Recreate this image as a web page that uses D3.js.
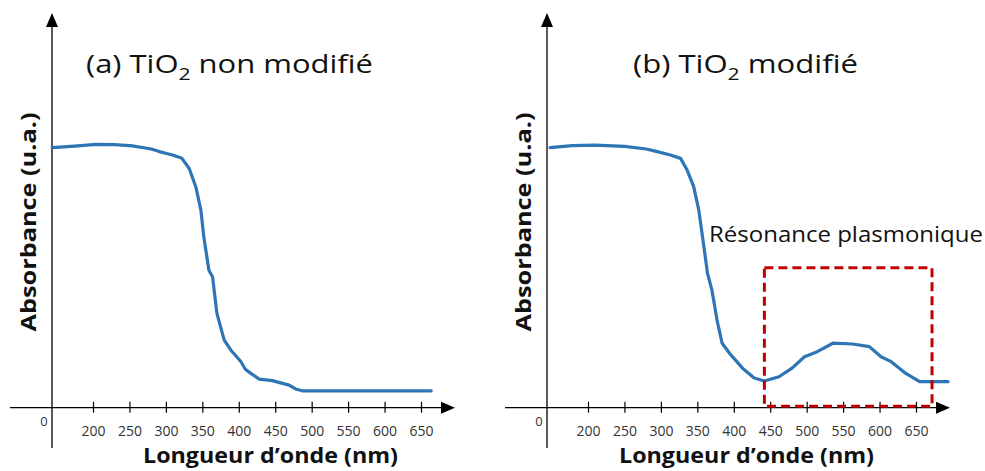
<!DOCTYPE html>
<html>
<head>
<meta charset="utf-8">
<script src="https://cdn.jsdelivr.net/npm/d3@7"></script>
<style>
	body { margin: 0; background: #fff; }
	svg { display: block; }
	text { font-family: "Open Sans", sans-serif; }
</style>
</head>
<body>
<div id="vis-proper"></div>
<script>
// wavelength ticks (nm)
const tickValues = [200, 250, 300, 350, 400, 450, 500, 550, 600, 650];

// (a) TiO2 non modifié : [wavelength nm, absorbance a.u.]
const specA = [
	[144, 1.0], [175, 1.006], [204, 1.013], [230, 1.012], [254, 1.007],
	[280, 0.995], [291, 0.985], [309, 0.972], [322, 0.959], [332, 0.92],
	[341, 0.85], [348, 0.76], [352, 0.658], [359, 0.529], [364, 0.504],
	[370, 0.363], [380, 0.26], [389, 0.222], [403, 0.177], [409, 0.148],
	[416, 0.133], [428, 0.11], [446, 0.104], [469, 0.087], [478, 0.072],
	[487, 0.065], [664, 0.065]
];

// (b) TiO2 modifié
const specB = [
	[148, 1.0], [178, 1.008], [210, 1.01], [250, 1.005], [280, 0.995],
	[295, 0.985], [313, 0.972], [327, 0.959], [336, 0.914], [345, 0.85],
	[352, 0.76], [359, 0.619], [364, 0.516], [370, 0.453], [377, 0.337],
	[384, 0.248], [396, 0.203], [412, 0.152], [428, 0.114], [442, 0.103],
	[462, 0.119], [480, 0.152], [497, 0.196], [512, 0.212], [536, 0.248],
	[563, 0.245], [586, 0.235], [602, 0.196], [616, 0.177], [636, 0.132],
	[655, 0.1], [694, 0.1]
];

// plasmon resonance window [nm from, nm to, absorbance top]
const plasmonBox = [442, 672, 0.538];

const main = () => {
	draw();
};

const draw = () => {
	const W = 985, H = 471;
	const svg = d3.select("#vis-proper").append("svg")
		.attr("width", W)
		.attr("height", H);

	const panels = [
		{ ox: 52, tag: "(a) TiO", rest: " non modifié", data: specA, tx: 86, tw: 287, lx: 270.5, box: false },
		{ ox: 547, tag: "(b) TiO", rest: " modifié", data: specB, tx: 633, tw: 225, lx: 746.5, box: true }
	];

	const axisY = 407.7;

	panels.forEach(p => {
		const g = svg.append("g");
		const x = d3.scaleLinear().domain([200, 650]).range([p.ox + 41, p.ox + 369]);
		const y = d3.scaleLinear().domain([0, 1]).range([axisY, 147.7]);

		// axis lines with arrows
		g.append("line")
			.attr("x1", p.ox).attr("x2", p.ox)
			.attr("y1", 448).attr("y2", 26)
			.attr("stroke", "#000").attr("stroke-width", 1.3);
		g.append("path")
			.attr("d", `M${p.ox},13 L${p.ox - 6},27 L${p.ox + 6},27 Z`)
			.attr("fill", "#000");
		g.append("line")
			.attr("x1", p.ox - 42).attr("x2", p.ox + 392)
			.attr("y1", axisY).attr("y2", axisY)
			.attr("stroke", "#000").attr("stroke-width", 1.3);
		g.append("path")
			.attr("d", `M${p.ox + 403},${axisY} L${p.ox + 389},${axisY - 6} L${p.ox + 389},${axisY + 6} Z`)
			.attr("fill", "#000");

		// ticks
		const ax = g.append("g")
			.attr("transform", `translate(0,${axisY})`)
			.call(d3.axisBottom(x).tickValues(tickValues).tickSize(0).tickPadding(18));
		ax.select(".domain").remove();
		ax.selectAll(".tick line")
			.attr("y1", -6).attr("y2", 5)
			.attr("stroke", "#000").attr("stroke-width", 1.2);
		ax.selectAll(".tick text")
			.attr("font-family", "Open Sans, sans-serif")
			.attr("font-size", 14)
			.attr("fill", "#333");

		g.append("text")
			.attr("x", p.ox - 8).attr("y", 426)
			.attr("text-anchor", "middle")
			.attr("font-size", 13).attr("fill", "#333")
			.text("0");

		// title with subscript
		const t = g.append("text")
			.attr("x", p.tx).attr("y", 73)
			.attr("font-size", 25).attr("fill", "#111")
			.attr("textLength", p.tw)
			.attr("lengthAdjust", "spacingAndGlyphs");
		t.append("tspan").text(p.tag);
		t.append("tspan").attr("dy", 7).attr("font-size", 17).text("2");
		t.append("tspan").attr("dy", -7).text(p.rest);

		// axis titles
		g.append("text")
			.attr("x", p.lx).attr("y", 463)
			.attr("text-anchor", "middle")
			.attr("font-size", 22).attr("font-weight", "bold").attr("fill", "#111")
			.attr("textLength", 255)
			.attr("lengthAdjust", "spacingAndGlyphs")
			.text("Longueur d’onde (nm)");
		g.append("text")
			.attr("transform", `translate(${p.ox - 24},222) rotate(-90)`)
			.attr("text-anchor", "middle")
			.attr("dy", "0.35em")
			.attr("font-size", 22).attr("font-weight", "bold").attr("fill", "#111")
			.attr("textLength", 219)
			.attr("lengthAdjust", "spacingAndGlyphs")
			.text("Absorbance (u.a.)");

		// spectrum
		g.append("path")
			.datum(p.data)
			.attr("d", d3.line().x(d => x(d[0])).y(d => y(d[1])))
			.attr("fill", "none")
			.attr("stroke", "#2e75b6")
			.attr("stroke-width", 3.2)
			.attr("stroke-linejoin", "round")
			.attr("stroke-linecap", "round");

		if (p.box) {
			g.append("rect")
				.attr("x", x(plasmonBox[0]))
				.attr("y", y(plasmonBox[2]))
				.attr("width", x(plasmonBox[1]) - x(plasmonBox[0]))
				.attr("height", y(0) - y(plasmonBox[2]) - 1.5)
				.attr("fill", "none")
				.attr("stroke", "#c00000")
				.attr("stroke-width", 3)
				.attr("stroke-dasharray", "9,5");
			g.append("text")
				.attr("x", 709).attr("y", 242)
				.attr("font-size", 22).attr("fill", "#111")
				.attr("textLength", 274)
				.attr("lengthAdjust", "spacingAndGlyphs")
				.text("Résonance plasmonique");
		}
	});
};

main();
</script>
</body>
</html>
